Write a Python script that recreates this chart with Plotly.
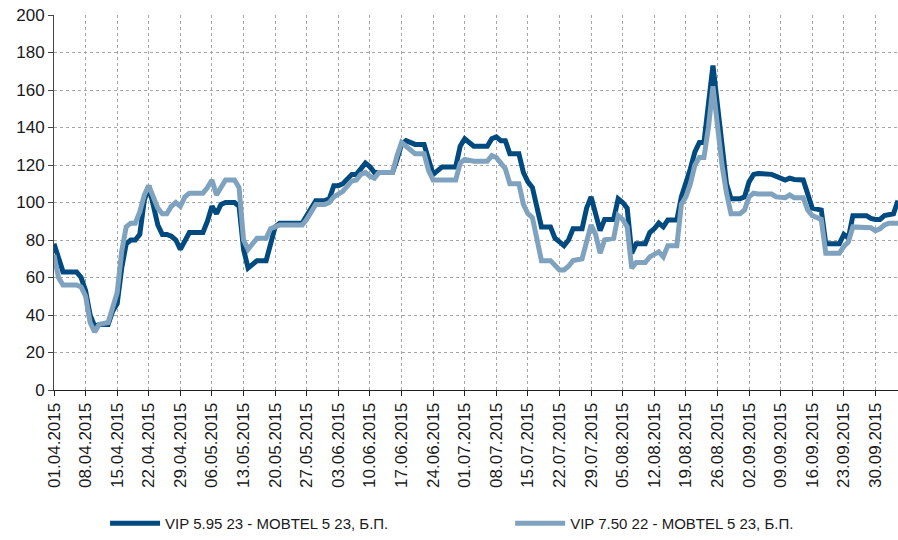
import plotly.graph_objects as go

dates = [
    "2015-04-01", "2015-04-02", "2015-04-03", "2015-04-04", "2015-04-06", "2015-04-07", "2015-04-08",
    "2015-04-09", "2015-04-10", "2015-04-11", "2015-04-13", "2015-04-14", "2015-04-15", "2015-04-16",
    "2015-04-17", "2015-04-18", "2015-04-19", "2015-04-20", "2015-04-21", "2015-04-22", "2015-04-23",
    "2015-04-24", "2015-04-25", "2015-04-26", "2015-04-27", "2015-04-28", "2015-04-29", "2015-04-30",
    "2015-05-01", "2015-05-04", "2015-05-05", "2015-05-06", "2015-05-07", "2015-05-08", "2015-05-09",
    "2015-05-11", "2015-05-12", "2015-05-13", "2015-05-14", "2015-05-15", "2015-05-16", "2015-05-18",
    "2015-05-19", "2015-05-20", "2015-05-21", "2015-05-26", "2015-05-27", "2015-05-29", "2015-05-31",
    "2015-06-01", "2015-06-02", "2015-06-03", "2015-06-04", "2015-06-06", "2015-06-07", "2015-06-08",
    "2015-06-09", "2015-06-10", "2015-06-11", "2015-06-12", "2015-06-15", "2015-06-16", "2015-06-17",
    "2015-06-18", "2015-06-20", "2015-06-22", "2015-06-23", "2015-06-24", "2015-06-26", "2015-06-29",
    "2015-06-30", "2015-07-01", "2015-07-03", "2015-07-06", "2015-07-07", "2015-07-08", "2015-07-09",
    "2015-07-10", "2015-07-11", "2015-07-13", "2015-07-14", "2015-07-15", "2015-07-16", "2015-07-17",
    "2015-07-18", "2015-07-20", "2015-07-21", "2015-07-22", "2015-07-23", "2015-07-24", "2015-07-25",
    "2015-07-27", "2015-07-28", "2015-07-29", "2015-07-30", "2015-07-31", "2015-08-01", "2015-08-03",
    "2015-08-04", "2015-08-05", "2015-08-06", "2015-08-07", "2015-08-08", "2015-08-10", "2015-08-11",
    "2015-08-12", "2015-08-13", "2015-08-14", "2015-08-15", "2015-08-17", "2015-08-18", "2015-08-19",
    "2015-08-20", "2015-08-21", "2015-08-22", "2015-08-23", "2015-08-24", "2015-08-25", "2015-08-26",
    "2015-08-27", "2015-08-28", "2015-08-29", "2015-08-31", "2015-09-01", "2015-09-02", "2015-09-03",
    "2015-09-04", "2015-09-07", "2015-09-08", "2015-09-10", "2015-09-11", "2015-09-12", "2015-09-14",
    "2015-09-15", "2015-09-16", "2015-09-18", "2015-09-19", "2015-09-22", "2015-09-23", "2015-09-24",
    "2015-09-25", "2015-09-28", "2015-09-29", "2015-09-30", "2015-10-01", "2015-10-02", "2015-10-03",
    "2015-10-04", "2015-10-05",
]

vip_595_23 = [
    78, 70, 63, 63, 63, 60, 53,
    40, 34, 35, 35, 42, 46, 65,
    78, 80, 80, 83, 101, 109, 98,
    88, 83, 83, 82, 80, 75, 80,
    84, 84, 90, 98, 94, 99, 100,
    100, 98, 75, 65, 67, 69, 69,
    78, 87, 89, 89, 93, 101, 101,
    102, 109, 109, 110, 115, 115, 118,
    121, 119, 116, 116, 116, 123, 131,
    133, 131, 131, 124, 115, 119, 119,
    130, 134, 130, 130, 134, 135, 133,
    133, 126, 126, 116, 111, 108, 96,
    87, 87, 81, 79, 77, 80, 86,
    86, 97, 103, 95, 85, 91, 91,
    102, 100, 97, 73, 78, 78, 84,
    86, 89, 87, 90.7, 90.7, 103, 110,
    118, 127, 132, 132, 150, 173, 152,
    128, 110, 102, 102, 103, 111, 115,
    115.5, 115, 114, 112, 113, 112.3, 112,
    104, 97, 96, 78, 78, 83, 81,
    93, 93, 91.5, 91, 91, 93, 93.7,
    94, 101,
]

vip_750_22 = [
    72, 60, 56, 56, 56, 55, 50,
    36, 31, 35, 36, 44, 52, 74,
    87, 89, 89, 95, 104, 109, 103,
    97, 94, 94, 98, 100, 98, 103,
    105, 105, 108, 112, 104, 108, 112,
    112, 108, 80, 75, 78, 81, 81,
    86, 87, 88, 88, 91, 99, 99,
    100, 103, 104.5, 106, 111.5, 112, 115,
    116, 114, 113, 116, 116, 125, 132,
    130, 126, 126, 117, 112, 112, 112,
    121, 123, 122, 122, 125, 124, 121,
    118, 110, 110, 99, 94, 92, 80,
    69, 69, 66, 64, 64, 66, 69,
    70, 79, 88, 83, 73, 80, 81,
    93, 91, 87, 65, 68, 68, 71,
    72, 73.7, 71, 77, 77, 99, 103,
    110, 120, 124, 124, 140, 162, 140,
    120, 105, 94, 94, 96, 103, 105,
    104.5, 104.5, 103, 102.6, 104, 102.6, 102.6,
    96, 93, 91, 73, 73, 76.5, 79,
    87, 87, 86.5, 85, 86, 88, 89,
    89, 89,
]

series_names = ["VIP 5.95 23 - MOBTEL 5 23, Б.П.", "VIP 7.50 22 - MOBTEL 5 23, Б.П."]
y_ticks = [0, 20, 40, 60, 80, 100, 120, 140, 160, 180, 200]

FONT = "Liberation Sans, Arial, sans-serif"
DARK = "#004a7f"
LIGHT = "#7fa2be"
TXT = "#1a1a1a"

fig = go.Figure()
fig.add_trace(go.Scatter(x=dates, y=vip_595_23, mode="lines", name=series_names[0],
                         line=dict(color=DARK, width=5), legend="legend"))
fig.add_trace(go.Scatter(x=dates, y=vip_750_22, mode="lines", name=series_names[1],
                         line=dict(color=LIGHT, width=5), legend="legend2"))

legend_common = dict(orientation="h", xanchor="left", y=-0.3575, yanchor="middle",
                     font=dict(family=FONT, size=15, color=TXT),
                     itemwidth=50, bgcolor="rgba(0,0,0,0)")

grid = dict(showgrid=True, gridcolor="#a6a6a6", gridwidth=1, griddash="3px,3px",
            zeroline=False, automargin=False,
            tickfont=dict(family=FONT, size=17, color=TXT))

fig.update_layout(
    width=898, height=540,
    margin=dict(l=54, r=0, t=15, b=145),
    paper_bgcolor="white", plot_bgcolor="white",
    font=dict(family=FONT, size=17, color=TXT),
    showlegend=True,
    legend=dict(x=0.0605, **legend_common),
    legend2=dict(x=0.5405, **legend_common),
    xaxis=dict(
        type="date", range=["2015-04-01", "2015-10-05"],
        tick0="2015-04-01", dtick=7 * 86400000, tickformat="%d.%m.%Y",
        tickangle=-90, ticks="outside", ticklen=5, tickcolor="#222",
        showline=True, linecolor="#222", linewidth=1, **grid,
    ),
    yaxis=dict(
        range=[0, 200], tickvals=y_ticks, ticks="outside", ticklen=5, tickcolor="#444",
        showline=True, linecolor="#444", linewidth=1, **grid,
    ),
)

fig.write_html("out.html",
               config={"displayModeBar": False},
               post_script="document.body.style.margin='0';document.body.style.overflow='hidden';")
